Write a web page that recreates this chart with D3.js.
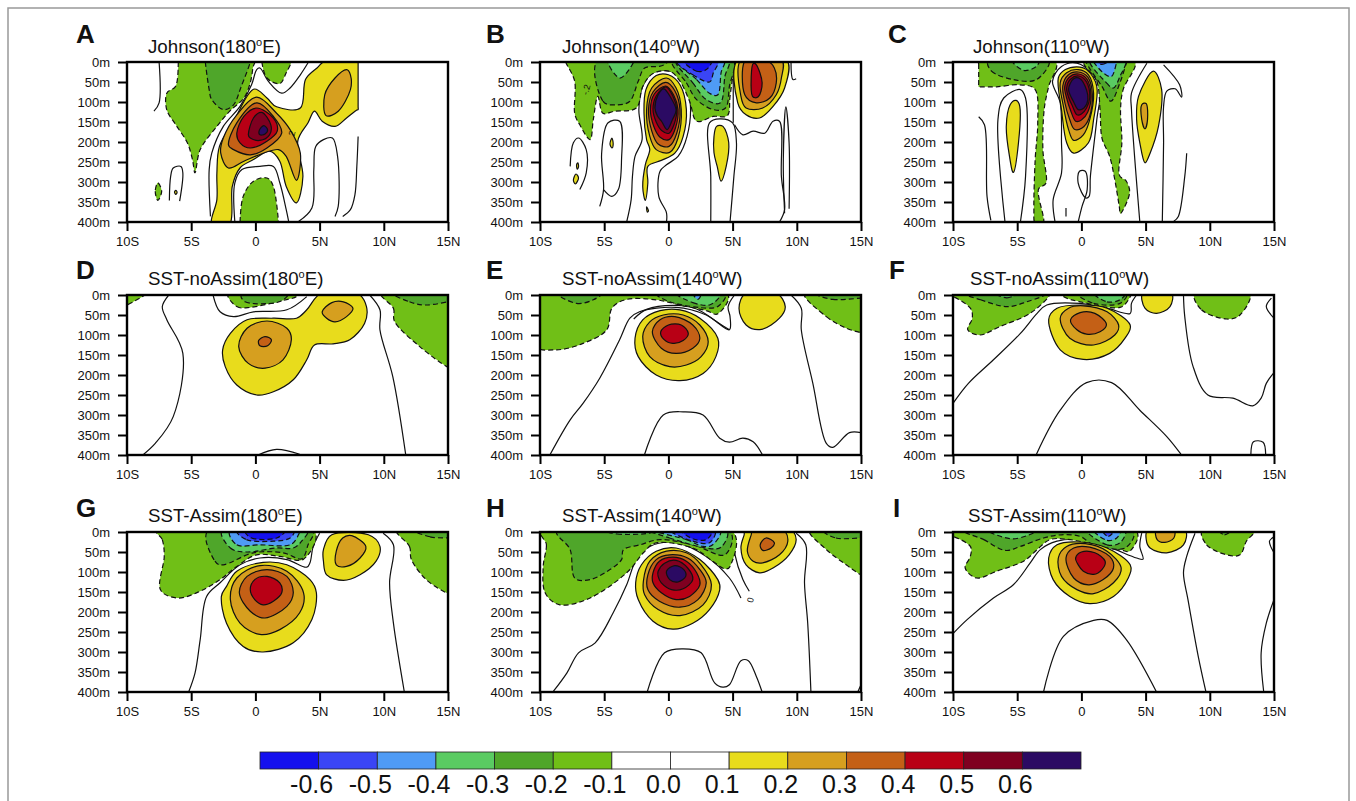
<!DOCTYPE html>
<html>
<head>
<meta charset="utf-8">
<script src="https://cdn.jsdelivr.net/npm/d3@7"></script>
<style>
  body { margin: 0; background: #fff; }
  text { font-family: "Liberation Sans", Arial, sans-serif; fill: #111; }
</style>
</head>
<body>
<svg id="chart" width="1356" height="801"></svg>
<script>
var latTicks = [-10, -5, 0, 5, 10, 15];
var latLabels = ["10S", "5S", "0", "5N", "10N", "15N"];
var depthTicks = [0, 50, 100, 150, 200, 250, 300, 350, 400];
var levels = [-0.6, -0.5, -0.4, -0.3, -0.2, -0.1, 0, 0.1, 0.2, 0.3, 0.4, 0.5, 0.6];
var bandColors = ["#1410ee", "#3a45f5", "#4f9bf5", "#5acb62", "#4fa62a", "#70bf17", "#ffffff", "#ffffff",
                  "#e8dc1c", "#d69f1f", "#c46016", "#b80015", "#7f0020", "#2b0a63"];
var panelLetters = ["A", "B", "C", "D", "E", "F", "G", "H", "I"];
var titleHeads = ["Johnson(180", "Johnson(140", "Johnson(110", "SST-noAssim(180", "SST-noAssim(140", "SST-noAssim(110",
                  "SST-Assim(180", "SST-Assim(140", "SST-Assim(110"];
var titleTails = ["E)", "W)", "W)", "E)", "W)", "W)", "E)", "W)", "W)"];

// contour areas: [level, [[lat, depth], ...]], outer ones first. lat is negative south
var fillsA = [
  [-0.1, [[-6,-8],[-6,0],[-6.2,60],[-6.9,78],[-6.9,120],[-6.2,157],[-5.3,202],[-4.9,244],[-4.7,277],[-4.3,219],[-3,161],[-2,123],[-0.9,90],[-0.4,52],[-0.2,15],[-0.15,-8]]],
  [-0.2, [[-3.9,-8],[-3.9,0],[-3.6,69],[-3.4,94],[-2.5,119],[-1.7,107],[-1.1,61],[-0.4,0],[-0.4,-8]]],
  [-0.1, [[0.5,-8],[0.5,0],[0.9,40],[1.9,54],[2.4,27],[2.8,0],[2.8,-8]]],
  [-0.1, [[-1.2,410],[-1.2,400],[-0.95,336],[-0.15,298],[0.9,290],[1.4,311],[1.8,400],[1.8,410]]],
  [-0.1, [[-7.6,302],[-7.8,323],[-7.6,346],[-7.3,323]]],
  [0.1, [[-6.3,325],[-6.2,321],[-6.1,326],[-6.2,331]]],
  [0.1, [[-3.4,405],[-3,344],[-3,278],[-2.8,211],[-1.7,148],[-0.15,68],[0.9,90],[1.65,112],[3.5,115],[3.9,44],[4.8,15],[5.5,-3],[7.9,-3],[8,-3],[8,5],[8,110],[8,119],[7.9,120],[7.1,140],[6.2,161],[5.2,148],[4.6,123],[4.1,152],[3.3,198],[3.7,286],[3.2,352],[2.4,311],[1.9,248],[1.1,223],[-0.15,244],[-1.2,265],[-1.8,311],[-2,405]]],
  [0.2, [[-2.7,228],[-2.5,190],[-1.45,132],[0.1,88],[1.65,128],[2.7,169],[3.5,228],[3.2,296],[2.4,236],[1.8,219],[0.6,228],[-0.9,248],[-2.1,265]]],
  [0.2, [[7.1,19],[6.2,40],[5.4,82],[5.5,134],[6.45,123],[7.4,69],[7.4,32]]],
  [0.3, [[-2.1,207],[-1.45,152],[0.1,102],[1.4,136],[2.05,178],[0.9,215],[-0.4,232],[-1.7,219]]],
  [0.4, [[-1.45,178],[-0.9,136],[0.1,115],[1.4,140],[1.7,173],[0.9,198],[-0.4,215],[-1.2,202]]],
  [0.5, [[-0.55,182],[-0.15,140],[0.5,126],[1.2,157],[1.1,182],[0.35,196],[-0.4,190]]],
  [0.6, [[0.3,171],[0.65,159],[0.95,169],[0.75,180],[0.35,182]]]
];
var linesA = [
  [[-7.5,0],[-7.5,102],[-7.9,123]],
  [[-3.5,386],[-3.6,269],[-3.4,228],[-2.5,161],[-1.2,111],[-0.3,57],[0.1,19],[0.35,15],[1,48],[2.05,78],[2.7,65],[3.5,32],[4.1,2]],
  [[-1.6,400],[-1.6,302],[-1.05,269],[0.35,261],[1.4,261],[1.9,302],[2.4,369],[2.6,400]],
  [[3.3,400],[4.4,365],[4.55,269],[4.7,211],[5.3,194],[6,190],[6.4,236],[6.45,361],[6.2,386]],
  [[6.8,386],[7.4,369],[7.75,332],[7.9,261],[8,186]],
  [[-6.7,346],[-6.6,286],[-6.4,265],[-5.8,261],[-5.65,278],[-5.9,348]]
];

var fillsB = [
  [-0.1, [[-8,-8],[-8,0],[-7.3,48],[-7.3,128],[-6.9,157],[-6.1,194],[-5.85,144],[-5.5,86],[-5.1,128],[-4.2,123],[-2.5,115],[-2,61],[-1.2,29],[0.1,23],[0.9,48],[1.65,98],[2.2,148],[3.5,136],[4.6,134],[4.8,86],[5.15,0],[5.15,-8]]],
  [-0.2, [[-5.5,-5],[-5.1,98],[-4,107],[-3,98],[-2.35,48],[-1.85,15],[-0.7,11],[-0.15,3],[-0.15,-5]]],
  [-0.2, [[0.3,-5],[1.4,52],[2.2,94],[3.5,119],[4.45,115],[4.75,61],[5,-5]]],
  [-0.3, [[-4.7,-5],[-3.8,40],[-2.9,11],[-2.75,-5]]],
  [-0.3, [[0.6,-5],[1.9,52],[2.95,94],[4.05,102],[4.4,36],[4.65,-5]]],
  [-0.4, [[0.6,-5],[2.2,44],[3.2,78],[3.85,82],[4.1,27],[4.3,-5]]],
  [-0.5, [[0.6,-3],[1.9,32],[3.2,50],[3.5,27],[3.85,-5]]],
  [-0.6, [[1.15,-5],[2.2,23],[2.95,19],[3.35,-5]]],
  [0.1, [[-2,311],[-1.8,346],[-1.6,302],[-1.6,261],[-0.55,246],[0.5,228],[1.15,186],[1.4,119],[0.9,57],[0,32],[-0.95,34],[-1.75,69],[-1.9,128],[-1.7,194],[-1.45,219],[-1.8,257]]],
  [0.2, [[-1.7,119],[-1.3,65],[-0.15,40],[0.6,65],[1,119],[0.75,190],[0.1,226],[-0.95,219],[-1.45,186]]],
  [0.3, [[-1.55,119],[-1.2,75],[-0.2,51],[0.5,72],[0.9,119],[0.65,178],[0.05,211],[-0.8,205],[-1.3,172]]],
  [0.4, [[-1.4,119],[-1.1,80],[-0.2,60],[0.4,82],[0.75,119],[0.55,165],[0.05,194],[-0.65,188],[-1.15,160]]],
  [0.5, [[-1.2,119],[-0.95,85],[-0.2,62],[0.35,85],[0.65,119],[0.45,155],[0.05,178],[-0.5,172],[-0.95,150]]],
  [0.6, [[-1.05,115],[-0.8,82],[-0.35,67],[0.2,90],[0.6,120],[0.3,145],[-0.1,169],[-0.5,150],[-0.85,135]]],
  [0.1, [[5.4,-5],[5.4,102],[6.05,132],[7.1,140],[8.15,111],[9.05,65],[9.2,-5]]],
  [0.2, [[5.65,-5],[5.65,86],[6.05,115],[7.35,115],[8.4,82],[8.8,40],[8.8,-5]]],
  [0.3, [[6,-5],[5.95,82],[6.85,102],[7.9,90],[8.4,52],[8.25,15],[7.6,-5]]],
  [0.4, [[6.45,36],[6.55,86],[7,87],[7.3,52],[6.85,7],[6.6,4]]],
  [0.1, [[3.55,186],[3.75,161],[4.25,161],[4.7,202],[4.5,261],[4.1,298],[3.8,261],[3.55,227]]],
  [0.1, [[-4.55,205],[-4.4,190],[-4.3,205],[-4.4,215]]],
  [0.1, [[-7.15,257],[-7.05,252],[-7,262],[-7.1,268]]],
  [0.1, [[-7.4,295],[-7.2,280],[-7,290],[-7.25,305]]],
  [0.1, [[-1.7,362],[-1.55,372],[-1.65,375]]]
];
var linesB = [
  [[-3.25,400],[-2.9,344],[-2.8,286],[-2.6,236],[-2.05,194],[-2.3,119],[-2,61],[-1.2,27],[0,22],[1.15,40],[1.7,102],[1.45,186],[0.75,236],[-0.15,257],[-0.65,273],[-0.75,336],[-0.15,377],[-0.15,400]],
  [[-7.65,261],[-7.4,202],[-7,190],[-6.4,219],[-6.4,277],[-6.9,319]],
  [[-5.35,361],[-5.05,319],[-5.2,228],[-4.7,152],[-3.8,148],[-3.65,244],[-3.9,319],[-4.4,336],[-5.05,319]],
  [[3.3,400],[3.3,286],[3.2,152],[4,142],[5,152],[5.3,202],[5.1,286],[4.8,400]],
  [[5.05,0],[5.05,152]],
  [[5.15,157],[5.8,182],[6.6,173],[7.5,178],[8.15,148],[8.65,148],[8.8,286],[9.05,369],[8.65,400]],
  [[9.05,378],[8.95,244],[9.15,112],[9.4,202],[9.4,367]],
  [[9.55,0],[9.7,44],[9.95,42]]
];

var fillsC = [
  [-0.1, [[-8,-5],[-8,5],[-8,55],[-8,62],[-7.8,62],[-6.6,62],[-4.8,57],[-3.6,69],[-3.4,152],[-3.6,244],[-3.7,369],[-3.6,403],[-2.95,403],[-3.35,319],[-2.75,302],[-3,219],[-2.9,119],[-2.55,61],[-2.05,-2]]],
  [-0.2, [[-7.2,-5],[-7,23],[-5.3,44],[-3.5,44],[-2.55,-5]]],
  [-0.3, [[-5.4,-5],[-4.5,21],[-3.5,11],[-3.35,-5]]],
  [-0.1, [[0.2,-2],[1.2,48],[1.45,119],[1.6,190],[2.2,236],[2.6,294],[2.95,361],[3.05,379],[3.75,328],[3.5,298],[2.95,282],[3.15,202],[3.05,119],[3.25,69],[4.15,-2]]],
  [-0.2, [[0.4,-5],[0.55,11],[1.6,61],[2.3,98],[3,52],[3.5,3],[3.6,-5]]],
  [-0.3, [[0.65,-5],[1.95,52],[2.5,65],[3,36],[3.4,-5]]],
  [-0.4, [[0.9,-5],[0.95,0],[1.7,27],[2.35,36],[2.75,0],[2.8,-5]]],
  [-0.5, [[1,-5],[1.6,6],[2.2,-5]]],
  [0.1, [[-1.8,40],[-1.25,19],[-0.35,12],[0.4,19],[1.2,61],[0.95,144],[0.55,202],[-0.6,228],[-1.15,202],[-1.55,119]]],
  [0.2, [[-1.65,52],[-1.15,27],[-0.25,19],[0.55,32],[0.95,78],[0.65,144],[0.15,182],[-0.6,196],[-1,169],[-1.4,111]]],
  [0.3, [[-1.45,60],[-1.05,33],[-0.25,25],[0.5,38],[0.85,80],[0.6,140],[0.05,165],[-0.55,168],[-0.9,145],[-1.3,100]]],
  [0.4, [[-1.3,62],[-0.95,38],[-0.2,30],[0.45,44],[0.75,85],[0.5,125],[0,145],[-0.45,148],[-0.8,125],[-1.15,90]]],
  [0.5, [[-1.15,65],[-0.85,43],[-0.2,35],[0.4,50],[0.65,88],[0.4,115],[0,130],[-0.35,132],[-0.7,110],[-1,88]]],
  [0.6, [[-1,68],[-0.6,42],[-0.1,42],[0.4,70],[0.5,95],[0.2,115],[-0.25,119],[-0.6,100]]],
  [0.1, [[-5.85,161],[-5.55,107],[-5.1,96],[-4.8,111],[-4.9,202],[-5.3,276],[-5.6,236]]],
  [0.1, [[4.3,144],[4.45,86],[5.6,23],[6.25,69],[6,161],[5.35,228],[4.95,252],[4.55,202]]],
  [0.2, [[4.7,107],[5.05,104],[5.15,144],[4.95,167],[4.7,144]]]
];
var linesC = [
  [[-2.05,400],[-2.2,344],[-1.55,278],[-1.55,202],[-1.65,102],[-2.25,48],[-1.55,11],[-0.35,3],[0.9,32],[1.45,69],[1.2,144],[0.7,286],[0.6,336],[0.35,340],[-0.25,303],[-0.15,273],[0.3,273],[0.45,319],[0.05,361],[-0.25,400]],
  [[-5.95,400],[-6.5,144],[-6.05,90],[-4.75,69],[-4.35,90],[-4.35,286],[-4.75,400]],
  [[-8,137],[-7.55,157],[-7.35,336],[-7.05,396]],
  [[4.55,400],[3.9,119],[3.9,78],[5.1,3]],
  [[6.3,400],[6.4,202],[6.4,111],[6.65,73],[7.3,67],[7.8,88],[7.65,57],[6.4,7]],
  [[7.2,398],[7.55,386],[8.05,286],[8.2,228]],
  [[-1.2,365],[-1.2,386]]
];

var fillsD = [
  [-0.1, [[-10.5,-5],[-10.5,28],[-10,25],[-8.6,0],[-8.4,-5]]],
  [-0.1, [[-2.1,-5],[-1.45,29],[-0.4,31],[1.65,17],[3.2,4],[3.3,-5]]],
  [-0.2, [[-1.05,-5],[-0.8,17],[1.65,19],[2.45,4],[2.5,-5]]],
  [-0.1, [[9.8,-5],[10.75,33],[10.85,67],[12.8,129],[15,181],[15.5,185],[15.5,-5]]],
  [-0.2, [[10.7,-5],[12,17],[13.3,25],[15.5,10],[15.5,-5]]],
  [0.1, [[-2.55,137],[-1.95,96],[-0.65,62],[1.4,58],[3.2,58],[4,37],[5.15,-5],[7.9,-5],[8.65,29],[8.5,71],[7.35,112],[6.05,122],[4.6,125],[4,162],[2.95,212],[1.4,242],[0.1,250],[-1.45,225],[-2.35,179]]],
  [0.2, [[-1.3,129],[-0.65,83],[0.9,65],[2.45,83],[2.8,112],[2.15,162],[0.75,183],[-0.55,171]]],
  [0.2, [[5.2,42],[5.95,19],[6.85,17],[7.6,33],[7.1,54],[6.2,67],[5.55,58]]],
  [0.3, [[0.25,114],[0.75,104],[1.25,112],[0.95,127],[0.35,127]]]
];
var linesD = [
  [[-3.3,0],[-2.75,42],[-1.7,54],[-0.15,42],[2.45,37],[4,4]],
  [[-6.75,0],[-7.25,29],[-6.9,62],[-5.65,146],[-6.4,304],[-7.8,371],[-8.7,398]],
  [[8.9,0],[9.7,37],[9.7,87],[10.7,204],[11.7,398]],
  [[0.2,400],[1.65,386],[3.45,398]]
];

var fillsE = [
  [-0.1, [[-10.5,-5],[-10.5,125],[-8.7,137],[-6.65,121],[-4.8,87],[-4.4,33],[-3.25,11],[-0.95,12],[0.9,25],[2.95,39],[3.85,47],[4.5,-5]]],
  [-0.2, [[-8.7,-5],[-7.15,21],[-5.85,12],[-5.2,-5]]],
  [-0.2, [[-0.95,-5],[0.1,17],[3.2,33],[4,25],[4.4,-5]]],
  [-0.3, [[0.6,-5],[1.9,19],[3.2,25],[4,4],[4,-5]]],
  [-0.4, [[1.9,-5],[2.3,11],[2.55,-5]]],
  [-0.1, [[10.6,-5],[12.3,54],[13.85,83],[15,94],[15.5,96],[15.5,-5]]],
  [-0.2, [[11.35,-5],[12.8,11],[15,8],[15.5,8],[15.5,-5]]],
  [0.1, [[-2.6,108],[-2,62],[-0.65,39],[0.9,37],[2.45,58],[3.85,108],[3.7,154],[2.7,196],[0.9,214],[-0.95,200],[-2.35,154]]],
  [0.2, [[-2,104],[-1.45,67],[-0.4,50],[1.15,50],[2.45,75],[3.1,117],[2.55,154],[1.4,175],[0.1,179],[-1.45,154]]],
  [0.3, [[-1.25,92],[-0.65,62],[0.5,54],[1.9,75],[2.45,108],[1.9,133],[0.6,146],[-0.55,133]]],
  [0.4, [[-0.6,92],[0,75],[1,75],[1.55,96],[1.15,114],[0.35,121],[-0.35,111]]],
  [0.1, [[5.5,33],[6.05,-5],[8.4,-5],[9.1,29],[8.65,58],[7.25,86],[6.05,75]]]
];
var linesE = [
  [[-9.2,398],[-7.65,312],[-6.65,271],[-5.35,208],[-3.8,112],[-3,58],[-2.25,42],[0.6,31],[2.95,50],[4.75,87],[4.8,54],[4.65,29],[5.15,0]],
  [[-2.7,60],[-1.7,36],[0.6,26],[2.2,35],[4,72],[4.75,87]],
  [[9.55,0],[10.35,33],[10.35,87],[11.25,221],[12.3,371],[12.8,381],[14.1,344],[15,344]],
  [[-1.85,398],[-0.4,300],[1.15,292],[2.7,300],[4,358],[4.75,368],[5.8,358],[6.6,367],[7.3,398]]
];

var fillsF = [
  [-0.1, [[-10.5,-5],[-10.5,4],[-10,4],[-8.65,33],[-8.5,58],[-8.85,87],[-7.9,100],[-6.35,79],[-4,46],[-2.55,4],[-2.5,-5]]],
  [-0.2, [[-9.15,-5],[-7.85,12],[-5.8,29],[-4.25,17],[-2.7,-5]]],
  [-0.3, [[-6.8,-5],[-5.8,7],[-4.9,-5]]],
  [-0.1, [[-1.5,-5],[-1.4,4],[-0.1,17],[3,31],[3.8,4],[3.85,-5]]],
  [-0.2, [[-0.35,-5],[0.95,21],[3,21],[3.5,-5]]],
  [-0.3, [[0.95,-5],[2,17],[3,12],[3.4,-5]]],
  [-0.1, [[8.85,-5],[9.35,37],[11.3,60],[12.35,50],[13.1,-5]]],
  [0.1, [[4.8,-5],[4.95,33],[5.85,46],[6.9,29],[7,-5]]],
  [0.1, [[-2.55,62],[-1.9,33],[-0.1,25],[2,33],[3.8,75],[3.4,108],[2.2,146],[0.15,161],[-1.65,137]]],
  [0.2, [[-1.65,58],[-1,33],[0.15,27],[2,42],[2.9,75],[2.6,100],[0.95,125],[-0.9,108]]],
  [0.3, [[-0.85,62],[-0.1,44],[1.05,46],[1.95,73],[1.45,92],[0.4,98],[-0.35,87]]]
];
var linesF = [
  [[-10,271],[-8.8,221],[-6.85,162],[-4.75,96],[-3.45,46],[-2.7,25],[-0.1,21],[2,33],[3.8,46],[3.9,21],[4.3,0]],
  [[7.95,0],[8.05,54],[8.7,179],[9.85,250],[11.8,258],[13.35,277],[14,258],[14.4,221],[15,194]],
  [[-3.5,398],[-1.65,288],[0.4,219],[2.35,219],[4.55,288],[6.65,354],[7.75,398]],
  [[13.2,398],[13.4,367],[14.15,368],[14.35,398]],
  [[14.8,8],[14.4,29],[15,58]]
];

var fillsG = [
  [-0.1, [[-7.65,-5],[-7.25,19],[-7.1,61],[-7.4,144],[-6.05,165],[-4.3,148],[-2.75,119],[-1.45,86],[0.1,57],[1.9,61],[3.75,68],[4.5,-5]]],
  [-0.2, [[-3.65,-5],[-3.15,73],[-2.5,82],[-0.15,52],[2.15,52],[3.6,67],[4.1,32],[4.4,-5]]],
  [-0.3, [[-2.55,-5],[-1.95,40],[-0.7,50],[1.65,40],[2.95,40],[3.6,23],[4,-5]]],
  [-0.4, [[-1.95,-5],[-1.45,32],[0.35,32],[2.7,32],[3.35,7],[3.35,-5]]],
  [-0.5, [[-1.45,-5],[-0.7,19],[1.4,23],[2.7,15],[2.95,-5]]],
  [-0.6, [[-0.8,-5],[-0.3,15],[1.65,15],[2.3,-5]]],
  [-0.1, [[11,-5],[12,36],[12.15,69],[13.3,119],[15,154],[15.5,158],[15.5,-5]]],
  [-0.2, [[12.3,-5],[13.6,12],[15,15],[15.5,15],[15.5,-5]]],
  [0.1, [[-2.65,161],[-2.25,136],[-1.45,98],[0.6,76],[2.45,82],[4.25,119],[4.75,152],[4.4,219],[2.95,277],[0.6,300],[-0.95,286],[-2.25,228]]],
  [0.2, [[-1.95,169],[-1.45,115],[0.35,84],[2.45,98],[3.75,152],[3.45,202],[1.9,244],[0.35,256],[-1.2,228]]],
  [0.3, [[-1.25,152],[-0.65,111],[0.9,94],[2.45,111],[2.95,152],[2.45,186],[0.75,215],[-0.4,198]]],
  [0.4, [[-0.4,144],[-0.05,119],[0.9,111],[1.9,127],[2.05,152],[1.4,173],[0.6,182],[-0.05,169]]],
  [0.1, [[5.3,73],[5.3,44],[5.95,7],[8.8,7],[9.7,36],[9.4,73],[8.15,107],[6.85,121],[5.55,107]]],
  [0.2, [[6.3,48],[6.8,15],[7.5,9],[8.6,36],[8.15,65],[7.1,86],[6.3,82]]]
];
var linesG = [
  [[-5.2,400],[-4.7,352],[-4.3,269],[-3.8,161],[-2.75,127],[-1.2,82],[0.35,65],[2.45,69],[4,88],[4.25,77],[4.5,36],[5,3]],
  [[9.95,3],[10.75,32],[10.45,127],[10.75,228],[11.6,400]]
];

var fillsH = [
  [-0.1, [[-9.8,-5],[-9.5,32],[-9.75,86],[-9.6,152],[-8.45,182],[-6.1,165],[-3.25,102],[-1.95,52],[-0.95,27],[1.9,40],[3.45,73],[4.4,92],[4.8,86],[4.85,-5]]],
  [-0.2, [[-8.6,-5],[-7.65,44],[-7.3,115],[-6.1,119],[-4.55,94],[-3.65,69],[-3.5,44],[-2.2,32],[-0.65,19],[1.9,32],[4.4,57],[4.65,-5]]],
  [-0.3, [[-5,-5],[-4,5],[-1.5,3],[-1,-5]]],
  [-0.3, [[-1.45,-5],[0.1,15],[2.95,40],[4.1,38],[4.5,-5]]],
  [-0.4, [[-1.2,-5],[1.4,19],[2.7,36],[3.45,32],[4,-5]]],
  [-0.5, [[0.1,-5],[1.9,23],[3.2,27],[3.6,-5]]],
  [-0.6, [[1,-5],[1.9,17],[2.95,19],[3.4,-5]]],
  [-0.1, [[11,-5],[12.3,44],[13.85,82],[15,107],[15.5,110],[15.5,-5]]],
  [-0.2, [[12,-5],[13.05,15],[15,15],[15.5,15],[15.5,-5]]],
  [0.1, [[-2.55,127],[-2.1,82],[-0.95,48],[0.6,40],[2.45,69],[3.85,119],[4,144],[3.2,194],[1.9,228],[0.35,243],[-1.2,223],[-2.35,169]]],
  [0.2, [[-1.95,123],[-1.45,73],[-0.15,48],[1.4,52],[2.55,82],[3.35,132],[2.7,182],[0.9,209],[-0.8,194],[-1.85,157]]],
  [0.3, [[-1.6,107],[-0.95,69],[0.1,57],[1.5,65],[2.45,94],[2.95,127],[2.3,169],[0.9,188],[-0.7,173],[-1.6,144]]],
  [0.4, [[-1.2,102],[-0.7,73],[0.35,63],[1.4,73],[2.2,102],[2.45,132],[1.65,161],[0.6,169],[-0.55,152],[-1.2,127]]],
  [0.5, [[-0.8,98],[-0.3,78],[0.6,71],[1.5,90],[1.9,119],[1.15,142],[0.25,144],[-0.55,127],[-0.8,111]]],
  [0.6, [[-0.15,98],[0.5,84],[1.2,94],[1.35,111],[0.75,125],[0.1,119]]],
  [0.1, [[5.65,40],[5.9,7],[6,-5],[9.5,-5],[9.95,19],[9.4,57],[8.15,90],[7.1,102],[6.05,82]]],
  [0.2, [[6.15,48],[6.45,7],[6.6,-5],[8.9,-5],[9.3,23],[8.65,57],[7.35,77],[6.6,73]]],
  [0.3, [[7.15,32],[7.6,15],[8.25,27],[8,40],[7.35,46]]]
];
var linesH = [
  [[-8.95,398],[-7.9,352],[-7,302],[-5.7,277],[-4.3,202],[-3.25,132],[-2.5,69],[-1.45,36],[0.6,27],[2.95,61],[4.75,115],[5.65,165]],
  [[5,3],[5.15,52],[5.8,119],[6.3,148]],
  [[9.95,3],[10.7,32],[10.6,127],[10.85,228],[11.1,400]],
  [[-1.65,400],[-0.3,302],[1.15,292],[2.55,302],[3.6,377],[4.25,388],[4.75,382],[5.65,322],[6.2,321],[6.85,361],[7.3,400]],
  [[14.75,400],[15,382]]
];

var fillsI = [
  [-0.1, [[-10.5,-5],[-10.5,11],[-10,11],[-8.65,36],[-8.65,61],[-9.05,90],[-8.15,115],[-6.6,98],[-4.5,73],[-3.45,44],[-2.45,19],[-1.15,18],[1.2,32],[3,44],[3.8,47],[4.15,-5]]],
  [-0.2, [[-9.15,-5],[-7.6,19],[-5.95,46],[-4.75,36],[-2.95,15],[-1.55,7],[-0.1,11],[0.95,32],[3.4,40],[3.9,-5]]],
  [-0.3, [[-7.35,-5],[-5.3,17],[-3.45,-5]]],
  [-0.3, [[0.4,-5],[2,32],[3,27],[3.4,-5]]],
  [-0.4, [[0.95,-5],[2,21],[2.75,15],[3,-5]]],
  [-0.5, [[1.6,-5],[2.1,11],[2.55,-5]]],
  [-0.1, [[9.45,-5],[9.75,32],[11.3,57],[12.35,57],[12.85,23],[13.5,-5]]],
  [-0.2, [[10.65,-5],[11.15,7],[11.7,-5]]],
  [0.1, [[5.05,19],[5.2,-5],[8.05,-5],[7.95,32],[6.65,52],[5.35,40]]],
  [0.2, [[5.85,-5],[5.9,19],[6.5,26],[7.2,15],[7.2,-5]]],
  [0.1, [[-2.55,65],[-1.9,32],[-0.1,25],[2,40],[3.8,82],[3.65,115],[2.5,161],[0.65,179],[-0.9,161],[-2.2,119]]],
  [0.2, [[-1.8,65],[-1.15,36],[0.3,29],[2,48],[3.1,90],[2.5,127],[0.95,154],[-0.35,144],[-1.55,111]]],
  [0.3, [[-1.2,65],[-0.6,40],[0.65,38],[2.2,61],[2.5,90],[1.7,119],[0.55,132],[-0.6,115]]],
  [0.4, [[-0.45,65],[0,50],[1.05,52],[1.85,73],[1.6,94],[0.95,106],[0.15,98],[-0.25,82]]]
];
var linesI = [
  [[-10,254],[-8.9,219],[-6.85,165],[-5.3,132],[-4,78],[-3.2,44],[-1.9,23],[-0.1,19],[2,36],[4.3,65],[4.8,68],[4.55,36],[4.7,3]],
  [[8.85,3],[8.2,61],[7.95,102],[8.3,169],[9.1,311],[9.7,400]],
  [[-2.95,400],[-1.4,261],[0.95,221],[2,221],[3.5,269],[5.85,400]],
  [[14.2,400],[14,302],[14.4,228],[15,169]],
  [[15,12],[14.65,23],[15,52]]
];

var allFills = [fillsA, fillsB, fillsC, fillsD, fillsE, fillsF, fillsG, fillsH, fillsI];
var allLines = [linesA, linesB, linesC, linesD, linesE, linesF, linesG, linesH, linesI];

// contour value labels: [panel number, lat, depth, text]
var contourNotes = [[0, 2.85, 178, "2"], [1, -6.4, 69, "-.2"], [7, 6.4, 170, "0"]];

// layout
var colLeft = [127, 540, 953];
var rowTop = [62, 295, 532];
var plotW = 321, plotH = 160;
var titleX = [148, 562, 973, 148, 562, 970, 148, 562, 968];
var letterX = [76, 486, 888, 76, 486, 889, 76, 486, 893];
var letterDrop = [19, 16, 15];
var titleDrop = [9, 10, 10];

var svg = d3.select("#chart");
var color = d3.scaleThreshold().domain(levels).range(bandColors);

svg.append("rect").attr("x", 8).attr("y", 8).attr("width", 1341).attr("height", 800)
    .attr("fill", "none").attr("stroke", "#999").attr("stroke-width", 1.5);

panelLetters.forEach(function(letter, i) {
    var col = i % 3, row = Math.floor(i / 3);
    var left = colLeft[col], top = rowTop[row];
    var x = d3.scaleLinear().domain([-10, 15]).range([left, left + plotW]);
    var y = d3.scaleLinear().domain([0, 400]).range([top, top + plotH]);

    var area = d3.line().x(function(d) { return x(d[0]); }).y(function(d) { return y(d[1]); })
        .curve(d3.curveCatmullRomClosed.alpha(0.35));
    var line = d3.line().x(function(d) { return x(d[0]); }).y(function(d) { return y(d[1]); })
        .curve(d3.curveCatmullRom.alpha(0.5));

    svg.append("clipPath").attr("id", "clip" + letter).append("rect")
        .attr("x", left).attr("y", top).attr("width", plotW).attr("height", plotH);
    var g = svg.append("g").attr("clip-path", "url(#clip" + letter + ")");

    g.selectAll("path.lev0").data(allLines[i]).enter().append("path")
        .attr("class", "lev0").attr("d", line)
        .attr("fill", "none").attr("stroke", "#111").attr("stroke-width", 1.2);

    g.selectAll("path.band").data(allFills[i]).enter().append("path")
        .attr("class", "band")
        .attr("d", function(d) { return area(d[1]); })
        // band colour sits just inside the contour level
        .attr("fill", function(d) { return color(d[0] < 0 ? d[0] - 0.05 : d[0] + 0.05); })
        .attr("stroke", "#111").attr("stroke-width", 1.2)
        .attr("stroke-dasharray", function(d) { return d[0] < 0 ? "5,3" : null; });

    contourNotes.filter(function(n) { return n[0] == i; }).forEach(function(n) {
        g.append("text")
            .attr("transform", "translate(" + x(n[1]) + "," + y(n[2]) + ") rotate(-75)")
            .attr("text-anchor", "middle").attr("dy", 3)
            .style("font-size", "9px").text(n[3]);
    });

    // frame and axes
    svg.append("rect").attr("x", left).attr("y", top).attr("width", plotW).attr("height", plotH)
        .attr("fill", "none").attr("stroke", "#000").attr("stroke-width", 2.4);

    var bottom = svg.append("g").attr("transform", "translate(0," + (top + plotH) + ")")
        .call(d3.axisBottom(x).tickValues(latTicks).tickSize(9).tickPadding(6)
            .tickFormat(function(d, k) { return latLabels[k]; }));
    var side = svg.append("g").attr("transform", "translate(" + left + ",0)")
        .call(d3.axisLeft(y).tickValues(depthTicks).tickSize(9).tickPadding(8)
            .tickFormat(function(d) { return d + "m"; }));
    [bottom, side].forEach(function(a) {
        a.select(".domain").remove();
        a.selectAll("line").attr("stroke", "#000").attr("stroke-width", 2);
        a.selectAll("text").style("font-size", "13px").attr("fill", "#111")
            .style("font-family", "Liberation Sans");
    });

    svg.append("text").attr("x", letterX[i]).attr("y", top - letterDrop[row])
        .style("font-size", "26px").style("font-weight", "bold").attr("fill", "#000").text(letter);

    var t = svg.append("text").attr("x", titleX[i]).attr("y", top - titleDrop[row])
        .style("font-size", "18.7px");
    t.append("tspan").text(titleHeads[i]);
    t.append("tspan").attr("dy", -7).style("font-size", "11px").text("o");
    t.append("tspan").attr("dy", 7).text(titleTails[i]);
});

// colour bar
var barX = d3.scaleBand().domain(d3.range(bandColors.length)).range([260, 1081]);
var bar = svg.append("g");
bar.selectAll("rect").data(bandColors).enter().append("rect")
    .attr("x", function(d, i) { return barX(i); })
    .attr("y", 752).attr("width", barX.bandwidth()).attr("height", 17)
    .attr("fill", function(d) { return d; })
    .attr("stroke", "#222").attr("stroke-width", 0.8);
bar.selectAll("text").data(levels).enter().append("text")
    .attr("text-anchor", "middle")
    .attr("x", function(d, i) { return barX(i) + barX.bandwidth() - 7; })
    .attr("y", 793)
    .style("font-size", "25px")
    .text(function(d) { return d.toFixed(1); });
</script>
</body>
</html>
